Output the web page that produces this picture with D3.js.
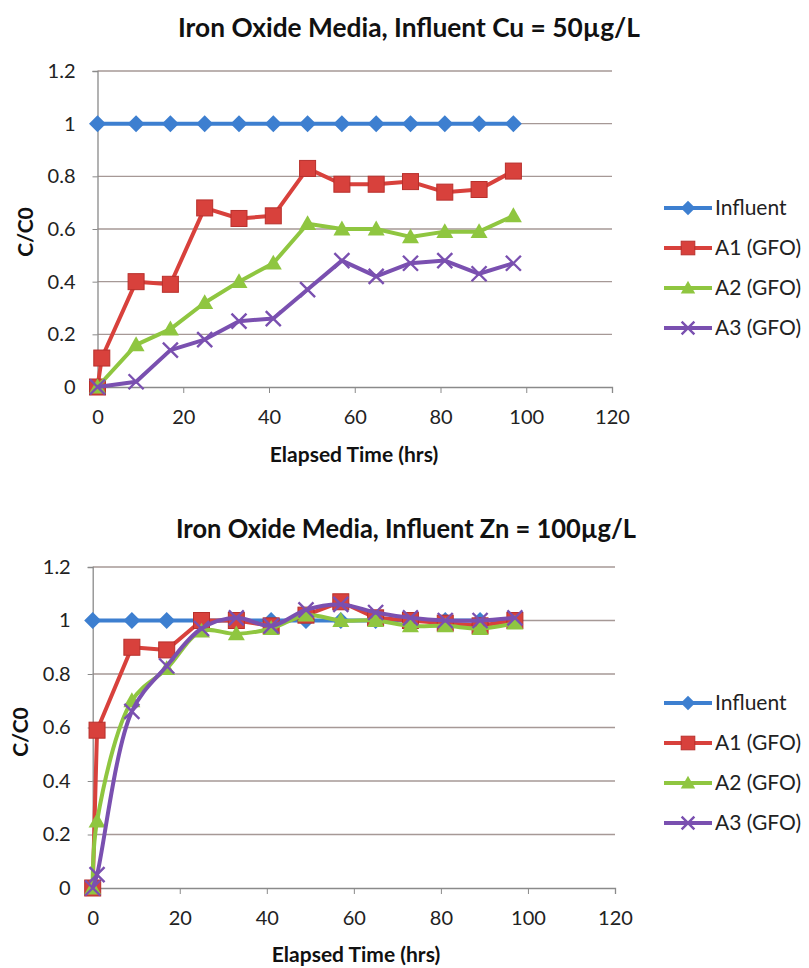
<!DOCTYPE html>
<html><head><meta charset="utf-8">
<script src="https://cdn.jsdelivr.net/npm/d3@7/dist/d3.min.js"></script>
<style>
body{margin:0;background:#fff;}
svg{display:block;font-family:Lato,"Open Sans",sans-serif;}
</style></head>
<body>
<svg id="c" width="809" height="968"></svg>
<script>
// ---- data ----
const seriesNames = ["Influent", "A1 (GFO)", "A2 (GFO)", "A3 (GFO)"];
const xTicks = [0, 20, 40, 60, 80, 100, 120];
const yTicks = [0, 0.2, 0.4, 0.6, 0.8, 1, 1.2];
const yTickLabels = ["0", "0.2", "0.4", "0.6", "0.8", "1", "1.2"];

// Cu chart
const cuTitle = "Iron Oxide Media, Influent Cu = 50\u00b5g/L";
const cuInfluentT = [0, 9, 17, 25, 33, 41, 49, 57, 65, 73, 81, 89, 97];
const cuInfluent  = [1, 1, 1, 1, 1, 1, 1, 1, 1, 1, 1, 1, 1];
const cuA1T = [0, 1, 9, 17, 25, 33, 41, 49, 57, 65, 73, 81, 89, 97];
const cuA1  = [0, 0.11, 0.40, 0.39, 0.68, 0.64, 0.65, 0.83, 0.77, 0.77, 0.78, 0.74, 0.75, 0.82];
const cuA2T = [0, 9, 17, 25, 33, 41, 49, 57, 65, 73, 81, 89, 97];
const cuA2  = [0, 0.16, 0.22, 0.32, 0.40, 0.47, 0.62, 0.60, 0.60, 0.57, 0.59, 0.59, 0.65];
const cuA3T = [0, 9, 17, 25, 33, 41, 49, 57, 65, 73, 81, 89, 97];
const cuA3  = [0, 0.02, 0.14, 0.18, 0.25, 0.26, 0.37, 0.48, 0.42, 0.47, 0.48, 0.43, 0.47];

// Zn chart
const znTitle = "Iron Oxide Media, Influent Zn = 100\u00b5g/L";
const znInfluentT = [0, 9, 17, 25, 33, 41, 49, 57, 65, 73, 81, 89, 97];
const znInfluent  = [1, 1, 1, 1, 1, 1, 1, 1, 1, 1, 1, 1, 1];
const znA1T = [0, 1, 9, 17, 25, 33, 41, 49, 57, 65, 73, 81, 89, 97];
const znA1  = [0, 0.59, 0.90, 0.89, 1.00, 1.00, 0.98, 1.02, 1.07, 1.01, 1.00, 0.99, 0.98, 1.00];
const znA2T = [0, 1, 9, 17, 25, 33, 41, 49, 57, 65, 73, 81, 89, 97];
const znA2  = [0, 0.25, 0.70, 0.82, 0.96, 0.95, 0.97, 1.02, 1.00, 1.00, 0.98, 0.98, 0.97, 0.99];
const znA3T = [0, 1, 9, 17, 25, 33, 41, 49, 57, 65, 73, 81, 89, 97];
const znA3  = [0, 0.05, 0.66, 0.83, 0.97, 1.01, 0.98, 1.04, 1.06, 1.03, 1.01, 1.00, 1.00, 1.01];

const xTitle = "Elapsed Time (hrs)";
const yTitle = "C/C0";
const colors = ["#3d7fd0", "#d8413c", "#8fc640", "#7a50b0"];
const markers = ["diamond", "square", "triangle", "x"];

const svg = d3.select("#c");
const zip = (t, v) => t.map((d, i) => [d, v[i]]);

function drawMarker(g, type, color, x, y, s) {
  s = s || 1;
  if (type === "diamond") {
    const r = 8.5 * s;
    g.append("path").attr("d", `M${x},${y-r}L${x+r},${y}L${x},${y+r}L${x-r},${y}Z`).attr("fill", color);
  } else if (type === "square") {
    const r = 8 * s;
    g.append("rect").attr("x", x-r).attr("y", y-r).attr("width", 2*r).attr("height", 2*r)
      .attr("fill", color).attr("stroke", "#b8302c").attr("stroke-width", 1);
  } else if (type === "triangle") {
    const r = 8.5 * s;
    g.append("path").attr("d", `M${x},${y-r}L${x+r},${y+r*0.75}L${x-r},${y+r*0.75}Z`).attr("fill", color);
  } else {
    const r = 7.5 * s;
    g.append("path").attr("d", `M${x-r},${y-r}L${x+r},${y+r}M${x+r},${y-r}L${x-r},${y+r}`)
      .attr("stroke", color).attr("stroke-width", 2.4).attr("fill", "none");
  }
}

function chart(cfg) {
  const x = d3.scaleLinear().domain([0, 120]).range([cfg.x0, cfg.x1]);
  const y = d3.scaleLinear().domain([0, 1.2]).range([cfg.y0, cfg.y1]);
  const g = svg.append("g");

  // title
  g.append("text").attr("x", cfg.titleX).attr("y", cfg.titleY).attr("text-anchor", "middle")
    .attr("font-size", 26).attr("font-weight", "bold").attr("fill", "#111")
    .attr("textLength", cfg.titleLen).attr("lengthAdjust", "spacingAndGlyphs").text(cfg.title);

  // gridlines
  g.selectAll(".grid").data(yTicks.filter(d => d > 0)).enter().append("line")
    .attr("x1", cfg.x0).attr("x2", cfg.x1).attr("y1", d => y(d)).attr("y2", d => y(d))
    .attr("stroke", "#a69996").attr("stroke-width", 1.3);

  // y axis
  const ya = g.append("g").attr("transform", `translate(${cfg.x0},0)`)
    .call(d3.axisLeft(y).tickValues(yTicks).tickFormat((d, i) => yTickLabels[i]).tickSize(5).tickPadding(17));
  ya.select(".domain").attr("stroke", "#8a8a8a").attr("stroke-width", 1.3);
  ya.selectAll(".tick line").attr("stroke", "#8a8a8a");
  ya.selectAll("text").attr("font-size", 20).attr("fill", "#222").attr("font-family", "Lato,'Open Sans',sans-serif");

  // x axis
  const xa = g.append("g").attr("transform", `translate(0,${cfg.y0})`)
    .call(d3.axisBottom(x).tickValues(xTicks).tickSize(6).tickPadding(17).tickFormat(d3.format("d")));
  xa.select(".domain").attr("stroke", "#8a8a8a").attr("stroke-width", 1.3);
  xa.selectAll(".tick line").attr("stroke", "#8a8a8a");
  xa.selectAll("text").attr("font-size", 20).attr("fill", "#222").attr("font-family", "Lato,'Open Sans',sans-serif");

  // axis titles
  g.append("text").attr("x", cfg.xTitleX).attr("y", cfg.xTitleY).attr("text-anchor", "middle")
    .attr("font-size", 21).attr("font-weight", "bold").attr("fill", "#111").text(xTitle);
  g.append("text").attr("transform", `translate(${cfg.yTitleX},${cfg.yTitleY}) rotate(-90)`)
    .attr("text-anchor", "middle").attr("font-size", 21).attr("font-weight", "bold").attr("fill", "#111").text(yTitle);

  // series
  cfg.series.forEach((s, i) => {
    const line = d3.line().x(d => x(d[0])).y(d => y(d[1]))
      .curve(s.smooth ? d3.curveCatmullRom.alpha(0.5) : d3.curveLinear);
    g.append("path").datum(s.data).attr("d", line).attr("fill", "none")
      .attr("stroke", colors[i]).attr("stroke-width", 4).attr("stroke-linejoin", "round");
    const mg = g.append("g");
    s.data.forEach(d => drawMarker(mg, markers[i], colors[i], x(d[0]), y(d[1])));
  });

  // legend
  seriesNames.forEach((n, i) => {
    const ly = cfg.legY + i * 40;
    g.append("line").attr("x1", cfg.legX).attr("x2", cfg.legX + 48).attr("y1", ly).attr("y2", ly)
      .attr("stroke", colors[i]).attr("stroke-width", 4);
    drawMarker(g, markers[i], colors[i], cfg.legX + 24, ly, 0.85);
    g.append("text").attr("x", cfg.legX + 51).attr("y", ly + 7).attr("font-size", 21)
      .attr("fill", "#222").text(n);
  });
}

chart({
  title: cuTitle, titleX: 409, titleY: 37, titleLen: 462,
  x0: 97.5, x1: 612, y0: 387, y1: 71,
  xTitleX: 354, xTitleY: 462, yTitleX: 33, yTitleY: 232,
  legX: 664, legY: 208,
  series: [
    {data: zip(cuInfluentT, cuInfluent)},
    {data: zip(cuA1T, cuA1)},
    {data: zip(cuA2T, cuA2)},
    {data: zip(cuA3T, cuA3)}
  ]
});

chart({
  title: znTitle, titleX: 406, titleY: 538, titleLen: 460,
  x0: 92.7, x1: 615, y0: 888, y1: 567,
  xTitleX: 356, xTitleY: 962, yTitleX: 28, yTitleY: 732,
  legX: 664, legY: 703,
  series: [
    {data: zip(znInfluentT, znInfluent)},
    {data: zip(znA1T, znA1)},
    {data: zip(znA2T, znA2), smooth: true},
    {data: zip(znA3T, znA3), smooth: true}
  ]
});
</script>
</body></html>
